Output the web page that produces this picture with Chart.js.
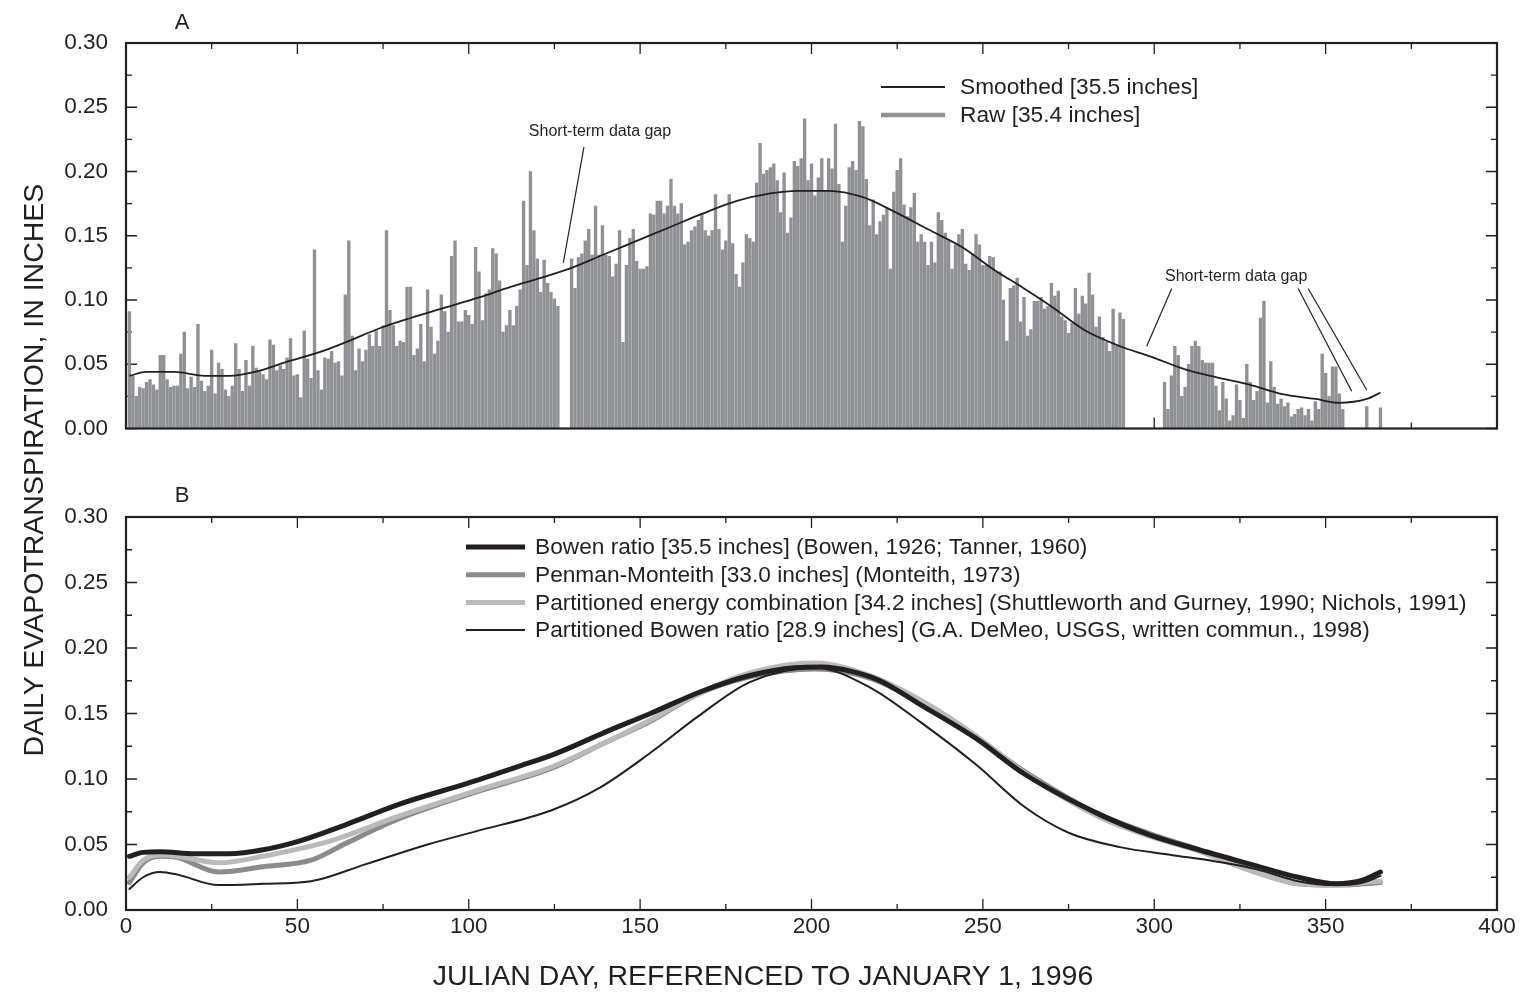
<!DOCTYPE html>
<html>
<head>
<meta charset="utf-8">
<title>Daily evapotranspiration, 1996</title>
<script src="https://cdn.jsdelivr.net/npm/chart.js@4.4.1/dist/chart.umd.min.js"></script>
<style>
  body { margin: 0; background: #fff; }
  #wrap { position: relative; width: 1522px; height: 996px; font-family: "Liberation Sans", Arial, sans-serif; color: #231f20; }
  canvas { position: absolute; left: 0; }
  .tag { position: absolute; font-size: 22px; line-height: 22px; width: 40px; text-align: center; }
  .ytitle { position: absolute; left: -267px; top: 456px; width: 600px; height: 28px; line-height: 28px;
            font-size: 28.5px; text-align: center; transform: rotate(-90deg); white-space: nowrap; }
  .xtitle { position: absolute; left: 263px; top: 961px; width: 1000px; line-height: 28px;
            font-size: 28.5px; text-align: center; white-space: nowrap; }
</style>
</head>
<body>
<div id="wrap">
  <canvas id="chartA" width="1522" height="460" style="top:0"></canvas>
  <canvas id="chartB" width="1522" height="536" style="top:460px"></canvas>
  <div class="tag" style="left:162px;top:11px">A</div>
  <div class="tag" style="left:162px;top:484px">B</div>
  <div class="ytitle">DAILY EVAPOTRANSPIRATION, IN INCHES</div>
  <div class="xtitle">JULIAN DAY, REFERENCED TO JANUARY 1, 1996</div>
</div>
<script>
const ink = '#231f20';

// Julian days 1..366 and the raw daily ET (inches); null = no record that day
const rawDays = Array.from({ length: 366 }, (_, i) => i + 1);
const rawEt = [
  0.091, 0.041, 0.025, 0.032, 0.031, 0.036, 0.038, 0.034, 0.030, 0.057,
  0.057, 0.038, 0.032, 0.033, 0.033, 0.058, 0.075, 0.031, 0.040, 0.032,
  0.081, 0.037, 0.029, 0.033, 0.061, 0.027, 0.051, 0.046, 0.030, 0.025,
  0.033, 0.066, 0.046, 0.029, 0.053, 0.033, 0.064, 0.047, 0.045, 0.042,
  0.038, 0.069, 0.065, 0.045, 0.049, 0.046, 0.055, 0.070, 0.041, 0.042,
  0.024, 0.076, 0.054, 0.039, 0.139, 0.045, 0.030, 0.055, 0.054, 0.060,
  0.051, 0.052, 0.041, 0.104, 0.146, 0.072, 0.045, 0.062, 0.052, 0.061,
  0.073, 0.064, 0.076, 0.064, 0.080, 0.154, 0.092, 0.080, 0.064, 0.068,
  0.067, 0.110, 0.110, 0.057, 0.062, 0.081, 0.052, 0.108, 0.079, 0.058,
  0.068, 0.104, 0.091, 0.075, 0.134, 0.146, 0.083, 0.083, 0.092, 0.088,
  0.081, 0.141, 0.122, 0.084, 0.105, 0.108, 0.140, 0.136, 0.115, 0.075,
  0.080, 0.092, 0.080, 0.095, 0.108, 0.177, 0.127, 0.200, 0.154, 0.132,
  0.106, 0.131, 0.113, 0.106, 0.101, 0.095, null, null, null, 0.132,
  0.109, 0.133, 0.136, 0.146, 0.155, 0.135, 0.173, 0.135, 0.158, 0.135,
  0.134, 0.118, 0.128, 0.154, 0.067, 0.127, 0.148, 0.155, 0.130, 0.124,
  0.124, 0.126, 0.167, 0.166, 0.177, 0.177, 0.167, 0.173, 0.194, 0.173,
  0.167, 0.175, 0.143, 0.145, 0.154, 0.157, 0.162, 0.167, 0.154, 0.150,
  0.154, 0.182, 0.155, 0.139, 0.146, 0.182, 0.144, 0.120, 0.110, 0.129,
  0.151, 0.148, 0.145, 0.191, 0.222, 0.198, 0.201, 0.203, 0.206, 0.193,
  0.168, 0.199, 0.152, 0.164, 0.208, 0.204, 0.210, 0.241, 0.193, 0.206,
  0.181, 0.195, 0.210, 0.185, 0.210, 0.202, 0.237, 0.190, 0.145, 0.173,
  0.203, 0.208, 0.201, 0.239, 0.235, 0.194, 0.158, 0.178, 0.151, 0.161,
  0.166, 0.171, 0.124, 0.184, 0.201, 0.210, 0.174, 0.165, 0.172, 0.183,
  0.145, 0.151, 0.145, 0.127, 0.145, 0.129, 0.168, 0.162, 0.152, 0.146,
  0.124, 0.143, 0.151, 0.155, 0.128, 0.123, 0.136, 0.151, 0.143, 0.127,
  0.127, 0.134, 0.133, 0.122, 0.122, 0.100, 0.068, 0.109, 0.111, 0.117,
  0.083, 0.102, 0.072, 0.077, 0.099, 0.099, 0.102, 0.093, 0.095, 0.113,
  0.103, 0.107, 0.087, 0.084, 0.074, 0.082, 0.109, 0.089, 0.103, 0.097,
  0.121, 0.104, 0.079, 0.087, 0.071, 0.067, 0.060, 0.093, 0.064, 0.090,
  0.085, null, null, null, null, null, null, null, null, null,
  null, null, 0.036, 0.015, 0.041, 0.064, 0.057, 0.025, 0.032, 0.050,
  0.064, 0.068, 0.064, 0.053, 0.051, 0.051, 0.051, 0.033, 0.014, 0.036,
  0.023, 0.006, 0.010, 0.034, 0.022, 0.008, 0.050, 0.036, 0.022, 0.029,
  0.086, 0.099, 0.020, 0.052, 0.032, 0.019, 0.023, 0.017, 0.020, 0.009,
  0.011, 0.015, 0.016, 0.010, 0.015, 0.006, 0.021, 0.015, 0.058, 0.043,
  0.025, 0.048, 0.048, 0.027, 0.015, null, null, null, null, null,
  null, 0.017, null, null, null, 0.016
];

// smoothed curve through the raw record, [day, inches]
const smoothedEt = [
  [1, 0.041], [6, 0.044], [14, 0.044], [23, 0.041], [30, 0.041], [39, 0.045],
  [47, 0.052], [56, 0.059], [64, 0.067], [74, 0.078], [83, 0.086], [93, 0.094],
  [103, 0.102], [112, 0.110], [122, 0.118], [130, 0.125], [139, 0.135], [149, 0.146],
  [159, 0.157], [168, 0.167], [178, 0.177], [188, 0.183], [196, 0.185], [205, 0.185],
  [215, 0.180], [224, 0.169], [234, 0.155], [244, 0.141], [253, 0.124], [262, 0.109],
  [270, 0.095], [280, 0.076], [290, 0.064], [299, 0.056], [309, 0.046], [318, 0.040],
  [328, 0.034], [337, 0.027], [347, 0.023], [354, 0.020], [362, 0.023], [366, 0.028]
];

// panel B, modelled daily ET by method, [day, inches]
const bowenEt = [
  [1, 0.041], [5, 0.044], [10, 0.0445], [20, 0.043], [30, 0.043], [40, 0.046],
  [51, 0.053], [65, 0.066], [80, 0.081], [100, 0.097], [115, 0.110], [125, 0.119],
  [140, 0.136], [153, 0.150], [168, 0.167], [182, 0.179], [195, 0.185], [203, 0.1855],
  [212, 0.182], [220, 0.175], [231, 0.158], [248, 0.131], [262, 0.104], [284, 0.073],
  [299, 0.057], [313, 0.046], [328, 0.035], [342, 0.025], [353, 0.020], [361, 0.023], [366, 0.029]
];
const penmanEt = [
  [1, 0.021], [5, 0.036], [10, 0.041], [15, 0.040], [27, 0.029], [40, 0.033],
  [54, 0.038], [65, 0.052], [80, 0.070], [102, 0.090], [124, 0.108], [140, 0.128],
  [153, 0.144], [167, 0.165], [182, 0.178], [201, 0.184], [217, 0.177], [232, 0.158],
  [248, 0.132], [262, 0.106], [284, 0.073], [299, 0.058], [313, 0.046], [328, 0.031],
  [342, 0.020], [353, 0.019], [361, 0.020], [366, 0.021]
];
const energyEt = [
  [1, 0.025], [5, 0.038], [10, 0.042], [15, 0.041], [27, 0.036], [40, 0.041],
  [51, 0.047], [60, 0.053], [80, 0.072], [102, 0.091], [124, 0.109], [140, 0.128],
  [153, 0.145], [167, 0.165], [182, 0.181], [201, 0.1885], [217, 0.179], [232, 0.160],
  [248, 0.133], [262, 0.105], [284, 0.071], [299, 0.056], [313, 0.045], [328, 0.030],
  [342, 0.020], [353, 0.019], [361, 0.021], [366, 0.022]
];
const partBowenEt = [
  [1, 0.016], [5, 0.025], [10, 0.029], [15, 0.027], [27, 0.019], [40, 0.020],
  [54, 0.022], [70, 0.035], [88, 0.050], [102, 0.060], [124, 0.076], [138, 0.093],
  [153, 0.120], [167, 0.148], [182, 0.174], [201, 0.185], [217, 0.170], [232, 0.143],
  [248, 0.111], [262, 0.079], [275, 0.059], [290, 0.048], [305, 0.042], [318, 0.037],
  [330, 0.031], [342, 0.022], [353, 0.019], [361, 0.021], [366, 0.026]
];

const xTicks = [0, 50, 100, 150, 200, 250, 300, 350, 400];
const yTicks = [0, 0.05, 0.10, 0.15, 0.20, 0.25, 0.30];

const toXY = pts => pts.map(([x, y]) => ({ x, y }));

Chart.defaults.font.family = '"Liberation Sans", Arial, sans-serif';
Chart.defaults.color = ink;

// inward tick marks on all four sides (minor every 25 days / 0.025 in), then the box
const frameTicks = {
  id: 'frameTicks',
  beforeDatasetsDraw(chart) {
    const { ctx, chartArea: a, scales: { x, y } } = chart;
    ctx.save();
    ctx.strokeStyle = ink;
    ctx.lineWidth = 1.3;
    ctx.beginPath();
    for (let d = 0; d <= 400; d += 25) {
      const px = x.getPixelForValue(d);
      const len = xTicks.includes(d) ? 11 : 6;
      ctx.moveTo(px, a.bottom); ctx.lineTo(px, a.bottom - len);
      ctx.moveTo(px, a.top); ctx.lineTo(px, a.top + len);
    }
    for (let i = 0; i <= 12; i++) {
      const py = y.getPixelForValue(i * 0.025);
      const len = i % 2 === 0 ? 11 : 6;
      ctx.moveTo(a.left, py); ctx.lineTo(a.left + len, py);
      ctx.moveTo(a.right, py); ctx.lineTo(a.right - len, py);
    }
    ctx.stroke();
    ctx.restore();
  },
  afterDatasetsDraw(chart) {
    const { ctx, chartArea: a } = chart;
    ctx.save();
    ctx.strokeStyle = ink;
    ctx.lineWidth = 2.2;
    ctx.strokeRect(a.left, a.top, a.right - a.left, a.bottom - a.top);
    ctx.restore();
  }
};

// key drawn inside the plot: one line sample + label per dataset
const keyRows = {
  id: 'keyRows',
  afterDraw(chart, args, opts) {
    const { ctx } = chart;
    ctx.save();
    ctx.font = '22.7px "Liberation Sans", Arial, sans-serif';
    ctx.textBaseline = 'middle';
    chart.data.datasets.forEach((ds, i) => {
      const y = opts.top + i * opts.rowGap;
      ctx.strokeStyle = ds.keyColor || ds.borderColor;
      ctx.lineWidth = ds.keyWidth || ds.borderWidth;
      ctx.beginPath();
      ctx.moveTo(opts.left, y);
      ctx.lineTo(opts.left + opts.lineLen, y);
      ctx.stroke();
      ctx.fillStyle = ink;
      ctx.fillText(ds.label, opts.left + opts.lineLen + opts.gap, y + 1);
    });
    ctx.restore();
  }
};

// "Short-term data gap" callouts, anchored in data units
const gapNotes = [
  { text: 'Short-term data gap', at: [138.3, 0.231],
    lines: [[[133.6, 0.219], [127.6, 0.129]]] },
  { text: 'Short-term data gap', at: [323.9, 0.118],
    lines: [[[305.1, 0.109], [297.8, 0.064]],
            [[342.0, 0.109], [357.6, 0.029]],
            [[344.9, 0.109], [362.0, 0.030]]] }
];
const gapCallouts = {
  id: 'gapCallouts',
  afterDatasetsDraw(chart) {
    const { ctx, scales: { x, y } } = chart;
    ctx.save();
    ctx.strokeStyle = ink;
    ctx.fillStyle = ink;
    ctx.lineWidth = 1.2;
    ctx.font = '16px "Liberation Sans", Arial, sans-serif';
    ctx.textAlign = 'center';
    ctx.textBaseline = 'middle';
    gapNotes.forEach(n => {
      ctx.fillText(n.text, x.getPixelForValue(n.at[0]), y.getPixelForValue(n.at[1]));
      n.lines.forEach(([p, q]) => {
        ctx.beginPath();
        ctx.moveTo(x.getPixelForValue(p[0]), y.getPixelForValue(p[1]));
        ctx.lineTo(x.getPixelForValue(q[0]), y.getPixelForValue(q[1]));
        ctx.stroke();
      });
    });
    ctx.restore();
  }
};

function scalesFor(showXLabels, xHeight) {
  return {
    x: {
      type: 'linear', min: 0, max: 400, offset: false,
      grid: { display: false, drawTicks: false },
      border: { display: false },
      afterBuildTicks: s => { s.ticks = xTicks.map(v => ({ value: v })); },
      ticks: { display: showXLabels, padding: 3, maxRotation: 0, font: { size: 22.5 }, color: ink },
      afterFit: s => { s.height = xHeight; }
    },
    y: {
      min: 0, max: 0.3,
      grid: { display: false, drawTicks: false },
      border: { display: false },
      afterBuildTicks: s => { s.ticks = yTicks.map(v => ({ value: v })); },
      ticks: { padding: 18, font: { size: 22.5 }, color: ink, callback: v => v.toFixed(2) },
      afterFit: s => { s.width = 126; }
    }
  };
}

const baseOpts = {
  responsive: false,
  animation: false,
  devicePixelRatio: 1,
  plugins: { legend: { display: false }, tooltip: { enabled: false } }
};

const rawPoints = rawDays
  .map((d, i) => ({ x: d, y: rawEt[i] }))
  .filter(p => p.y !== null);

new Chart(document.getElementById('chartA'), {
  type: 'bar',
  data: {
    datasets: [
      {
        type: 'line', label: 'Smoothed [35.5 inches]', data: toXY(smoothedEt),
        borderColor: ink, borderWidth: 1.8, pointRadius: 0,
        cubicInterpolationMode: 'monotone', keyWidth: 1.8
      },
      {
        type: 'bar', label: 'Raw [35.4 inches]', data: rawPoints,
        backgroundColor: '#8f9194', borderWidth: 0, barThickness: 2.7,
        keyColor: '#8f9194', keyWidth: 4.5
      }
    ]
  },
  options: {
    ...baseOpts,
    layout: { padding: { top: 43, right: 25, left: 0, bottom: 0 } },
    scales: scalesFor(false, 26),
    plugins: { ...baseOpts.plugins, keyRows: { left: 881, top: 87, rowGap: 28, lineLen: 64, gap: 15 } }
  },
  plugins: [frameTicks, gapCallouts, keyRows]
});

new Chart(document.getElementById('chartB'), {
  type: 'line',
  data: {
    datasets: [
      {
        label: 'Bowen ratio [35.5 inches] (Bowen, 1926; Tanner, 1960)', data: toXY(bowenEt),
        borderColor: ink, borderWidth: 5, order: 1
      },
      {
        label: 'Penman-Monteith [33.0 inches] (Monteith, 1973)', data: toXY(penmanEt),
        borderColor: '#8a8b8d', borderWidth: 5, order: 3
      },
      {
        label: 'Partitioned energy combination [34.2 inches] (Shuttleworth and Gurney, 1990; Nichols, 1991)',
        data: toXY(energyEt), borderColor: '#b9babc', borderWidth: 5, order: 2
      },
      {
        label: 'Partitioned Bowen ratio [28.9 inches] (G.A. DeMeo, USGS, written commun., 1998)',
        data: toXY(partBowenEt), borderColor: ink, borderWidth: 2, order: 0
      }
    ]
  },
  options: {
    ...baseOpts,
    layout: { padding: { top: 57, right: 25, left: 0, bottom: 0 } },
    elements: { point: { radius: 0 }, line: { cubicInterpolationMode: 'monotone', borderCapStyle: 'round' } },
    scales: scalesFor(true, 86),
    plugins: { ...baseOpts.plugins, keyRows: { left: 466, top: 87, rowGap: 27.7, lineLen: 59, gap: 10 } }
  },
  plugins: [frameTicks, keyRows]
});
</script>
</body>
</html>
